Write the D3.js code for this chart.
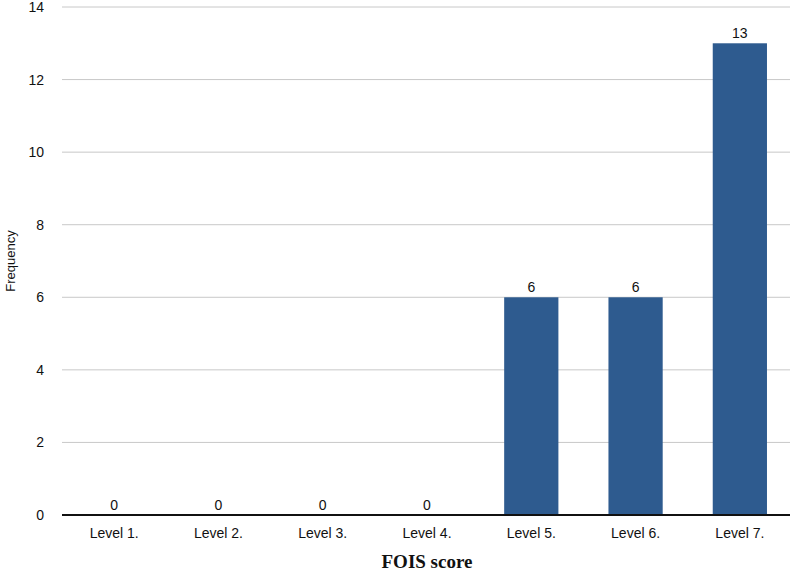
<!DOCTYPE html>
<html><head><meta charset="utf-8">
<script src="https://cdn.jsdelivr.net/npm/d3@7"></script>
<style>body{margin:0;background:#fff}svg{display:block}</style>
</head><body>
<script>
const categories = ["Level 1.", "Level 2.", "Level 3.", "Level 4.", "Level 5.", "Level 6.", "Level 7."];
const values = [0, 0, 0, 0, 6, 6, 13];
const yTicks = [0, 2, 4, 6, 8, 10, 12, 14];

const W = 800, H = 579;
const m = {left: 62, right: 8, top: 7, bottom: 64};
const svg = d3.select("body").append("svg").attr("width", W).attr("height", H);
const x = d3.scaleBand().domain(categories).range([m.left, W - m.right]).paddingInner(0.48).paddingOuter(0.24);
const y = d3.scaleLinear().domain([0, 14]).range([H - m.bottom, m.top]);
const font = "Liberation Sans, Arial, sans-serif";

// grid
svg.append("g").selectAll("line").data(yTicks.filter(d => d > 0)).join("line")
  .attr("x1", m.left).attr("x2", W - m.right - 2)
  .attr("y1", d => y(d)).attr("y2", d => y(d))
  .attr("stroke", "#c8c8c8").attr("stroke-width", 1);

// y axis labels
const ya = svg.append("g").attr("transform", `translate(${m.left},0)`)
  .call(d3.axisLeft(y).tickValues(yTicks).tickSize(0).tickPadding(18));
ya.select(".domain").remove();
ya.selectAll("text").attr("font-family", font).attr("font-size", 14).attr("fill", "#111");

// bars
svg.append("g").selectAll("rect").data(values).join("rect")
  .attr("x", (d, i) => x(categories[i])).attr("width", x.bandwidth())
  .attr("y", d => y(d)).attr("height", d => y(0) - y(d))
  .attr("fill", "#2e5b8f");

// value labels
svg.append("g").selectAll("text").data(values).join("text")
  .attr("x", (d, i) => x(categories[i]) + x.bandwidth() / 2)
  .attr("y", d => y(d) - 5)
  .attr("text-anchor", "middle").attr("font-family", font).attr("font-size", 14).attr("fill", "#111")
  .text(d => d);

// x axis
const xa = svg.append("g").attr("transform", `translate(0,${y(0)})`)
  .call(d3.axisBottom(x).tickSize(0).tickPadding(13));
xa.select(".domain").attr("stroke", "#111").attr("stroke-width", 2)
  .attr("d", `M${m.left},0H${W - m.right - 2}`);
xa.selectAll("text").attr("font-family", font).attr("font-size", 14).attr("fill", "#111");

// axis titles
svg.append("text").attr("x", (m.left + W - m.right) / 2).attr("y", 568)
  .attr("text-anchor", "middle").attr("font-family", "Liberation Serif, Times New Roman, serif")
  .attr("font-weight", "bold").attr("font-size", 19).attr("fill", "#111").text("FOIS score");
svg.append("text").attr("transform", `translate(15,${(m.top + y(0)) / 2}) rotate(-90)`)
  .attr("text-anchor", "middle").attr("font-family", font).attr("font-size", 13).attr("fill", "#111")
  .text("Frequency");
</script>
</body></html>
